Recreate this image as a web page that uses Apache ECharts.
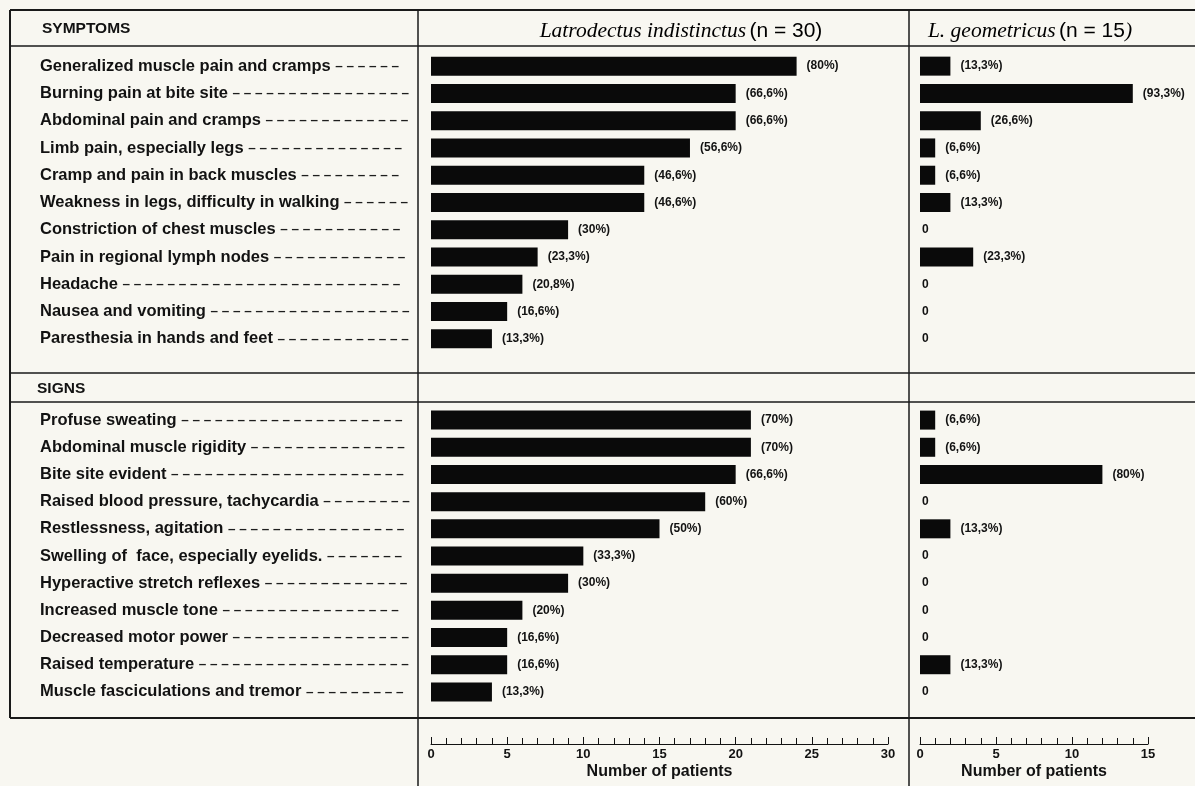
<!DOCTYPE html>
<html>
<head>
<meta charset="utf-8">
<script src="https://cdn.jsdelivr.net/npm/echarts@6/dist/echarts.min.js"></script>
<style>
html,body{margin:0;padding:0;background:#f8f7f1;}
#c{width:1195px;height:786px;}
</style>
</head>
<body>
<div id="c"></div>
<script>
// ---- data ----
const symptoms = [
  'Generalized muscle pain and cramps',
  'Burning pain at bite site',
  'Abdominal pain and cramps',
  'Limb pain, especially legs',
  'Cramp and pain in back muscles',
  'Weakness in legs, difficulty in walking',
  'Constriction of chest muscles',
  'Pain in regional lymph nodes',
  'Headache',
  'Nausea and vomiting',
  'Paresthesia in hands and feet'
];
const signs = [
  'Profuse sweating',
  'Abdominal muscle rigidity',
  'Bite site evident',
  'Raised blood pressure, tachycardia',
  'Restlessness, agitation',
  'Swelling of  face, especially eyelids.',
  'Hyperactive stretch reflexes',
  'Increased muscle tone',
  'Decreased motor power',
  'Raised temperature',
  'Muscle fasciculations and tremor'
];
// Latrodectus indistinctus (n = 30), number of patients
const indistinctusSymptoms = [24, 20, 20, 17, 14, 14, 9, 7, 6, 5, 4];
const indistinctusSymptomsPct = ['(80%)','(66,6%)','(66,6%)','(56,6%)','(46,6%)','(46,6%)','(30%)','(23,3%)','(20,8%)','(16,6%)','(13,3%)'];
const indistinctusSigns = [21, 21, 20, 18, 15, 10, 9, 6, 5, 5, 4];
const indistinctusSignsPct = ['(70%)','(70%)','(66,6%)','(60%)','(50%)','(33,3%)','(30%)','(20%)','(16,6%)','(16,6%)','(13,3%)'];
// L. geometricus (n = 15), number of patients
const geometricusSymptoms = [2, 14, 4, 1, 1, 2, 0, 3.5, 0, 0, 0];
const geometricusSymptomsPct = ['(13,3%)','(93,3%)','(26,6%)','(6,6%)','(6,6%)','(13,3%)','0','(23,3%)','0','0','0'];
const geometricusSigns = [1, 1, 12, 0, 2, 0, 0, 0, 0, 2, 0];
const geometricusSignsPct = ['(6,6%)','(6,6%)','(80%)','0','(13,3%)','0','0','0','0','(13,3%)','0'];
const leftMax = 30, rightMax = 15, tickStep = 5;

// ---- chart ----
const chart = echarts.init(document.getElementById('c'));
const SANS = '"Liberation Sans", Arial, sans-serif';
const NARROW = '"Liberation Sans Narrow", "Liberation Sans", Arial, sans-serif';
const SERIF = '"Liberation Serif", "Times New Roman", serif';
const INK = '#121212';

const gridTopS = 52.5, gridTopG = 406.5, gridH = 300;
const L = {left: 431, width: 457}, R = {left: 920, width: 228};

// leader dashes: fill the label column up to a fixed right edge
const NAME_FONT = 'bold 16.5px "Liberation Sans", Arial, sans-serif';
const DASH_FONT = 'bold 13.5px "Liberation Sans", Arial, sans-serif';
const LABEL_SPAN = 370;
const ctx = document.createElement('canvas').getContext('2d');
function measure(font, s) { ctx.font = font; return ctx.measureText(s).width; }
function leader(name) {
  const used = measure(NAME_FONT, name + ' ');
  const unit = measure(DASH_FONT, '\u2013 ');
  const dashW = measure(DASH_FONT, '\u2013');
  const n = Math.max(0, Math.floor((LABEL_SPAN - used - dashW) / unit) + 1);
  return '\u2013 '.repeat(n).trimEnd();
}

function yAxis(gi, names, showLabels) {
  return {
    type: 'category', gridIndex: gi, data: names, inverse: true,
    axisLine: {show: false}, axisTick: {show: false},
    axisLabel: showLabels ? {
      show: true, interval: 0, align: 'left', margin: 391,
      color: INK,
      formatter: v => '{n|' + v + ' }{d|' + leader(v) + '}',
      rich: {
        n: {fontFamily: SANS, fontWeight: 'bold', fontSize: 16.5, color: INK},
        d: {fontFamily: SANS, fontWeight: 'bold', fontSize: 13.5, color: '#1e1e1e'}
      }
    } : {show: false}
  };
}
function xAxis(gi, max, visible) {
  return {
    type: 'value', gridIndex: gi, min: 0, max: max, interval: tickStep,
    show: visible, position: 'bottom', offset: 38.5,
    splitLine: {show: false},
    axisLine: {show: true, lineStyle: {color: INK, width: 1}},
    axisTick: {show: true, inside: true, length: 7, lineStyle: {color: INK}},
    minorTick: {show: true, splitNumber: 5, length: 6, lineStyle: {color: INK}},
    axisLabel: {margin: 4, fontFamily: NARROW, fontWeight: 'bold', fontSize: 13, color: INK},
    name: 'Number of patients', nameLocation: 'middle', nameGap: 20,
    nameTextStyle: {fontFamily: SANS, fontWeight: 'bold', fontSize: 16, color: INK}
  };
}
function bars(gi, data, pct) {
  return {
    type: 'bar', xAxisIndex: gi, yAxisIndex: gi, barWidth: 19,
    itemStyle: {color: '#0a0a0a'},
    data: data.map(v => v === 0 ? {value: v, label: {distance: 2}} : v),
    label: {
      show: true, position: 'right', distance: 10,
      fontFamily: NARROW, fontWeight: 'bold', fontSize: 12, color: INK,
      formatter: p => pct[p.dataIndex]
    },
    animation: false
  };
}

function hline(y, x1, x2, w) {
  return {type: 'line', shape: {x1: x1, y1: y, x2: x2, y2: y}, style: {stroke: '#1a1a1a', lineWidth: w || 1.2}, silent: true};
}
function vline(x, y1, y2, w) {
  return {type: 'line', shape: {x1: x, y1: y1, x2: x, y2: y2}, style: {stroke: '#1a1a1a', lineWidth: w || 1.2}, silent: true};
}
function headText(x, y, rich, text) {
  return {type: 'text', x: x, y: y, silent: true,
          style: {text: text, rich: rich, align: 'center', verticalAlign: 'middle'}};
}
const titleRich = {
  i: {fontFamily: SERIF, fontStyle: 'italic', fontSize: 21.5, color: INK},
  n: {fontFamily: SANS, fontSize: 21, color: INK}
};

const option = {
  backgroundColor: '#f8f7f1',
  animation: false,
  grid: [
    {left: L.left, width: L.width, top: gridTopS, height: gridH},
    {left: L.left, width: L.width, top: gridTopG, height: gridH - 1},
    {left: R.left, width: R.width, top: gridTopS, height: gridH},
    {left: R.left, width: R.width, top: gridTopG, height: gridH - 1}
  ],
  xAxis: [xAxis(0, leftMax, false), xAxis(1, leftMax, true), xAxis(2, rightMax, false), xAxis(3, rightMax, true)],
  yAxis: [yAxis(0, symptoms, true), yAxis(1, signs, true), yAxis(2, symptoms, false), yAxis(3, signs, false)],
  series: [
    bars(0, indistinctusSymptoms, indistinctusSymptomsPct),
    bars(1, indistinctusSigns, indistinctusSignsPct),
    bars(2, geometricusSymptoms, geometricusSymptomsPct),
    bars(3, geometricusSigns, geometricusSignsPct)
  ],
  graphic: [
    hline(10, 10, 1195, 2),
    hline(46, 10, 1195, 1.5),
    hline(373, 10, 1195, 1.5),
    hline(402, 10, 1195, 1.5),
    hline(718, 10, 1195, 2),
    vline(10, 10, 718, 2),
    vline(418, 10, 786, 1.5),
    vline(909, 10, 786, 1.5),
    {type: 'text', x: 42, y: 29, silent: true,
     style: {text: 'SYMPTOMS', font: 'bold 15.5px ' + SANS, fill: INK, verticalAlign: 'middle'}},
    {type: 'text', x: 37, y: 389, silent: true,
     style: {text: 'SIGNS', font: 'bold 15.5px ' + SANS, fill: INK, verticalAlign: 'middle'}},
    headText(681, 31, titleRich, '{i|Latrodectus indistinctus} {n|(n = 30)}'),
    headText(1030, 31, titleRich, '{i|L. geometricus} {n|(n = 15}{i|)}')
  ]
};
chart.setOption(option);
</script>
</body>
</html>
